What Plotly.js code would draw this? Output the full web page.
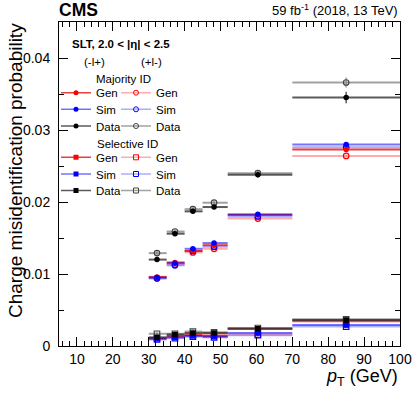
<!DOCTYPE html>
<html>
<head>
<meta charset="utf-8">
<script src="https://cdn.plot.ly/plotly-3.0.1.min.js"></script>
<style>
html, body { margin: 0; padding: 0; background: #fff; }
#chart { width: 415px; height: 394px; }
</style>
</head>
<body>
<div id="chart"></div>
<script>
// pT bins (GeV) and mean pT inside each bin
var binLo = [30, 35, 40, 45, 52, 70];
var binHi = [35, 40, 45, 52, 70, 100];
var ptMean = [32.3, 37.3, 42.3, 48.2, 60.4, 85.0];

// Majority ID: (-l+) filled, (+l-) open
var majGenM  = [0.0096, 0.0116, 0.0132, 0.0140, 0.0182, 0.0273];
var majSimM  = [0.0095, 0.0115, 0.0135, 0.0143, 0.0183, 0.0280];
var majDataM = [0.0120, 0.0156, 0.0187, 0.0193, 0.0238, 0.0345];
var majGenP  = [0.0094, 0.0113, 0.0130, 0.0135, 0.0177, 0.0264];
var majSimP  = [0.0094, 0.0112, 0.0132, 0.0138, 0.0180, 0.0276];
var majDataP = [0.0129, 0.0159, 0.0190, 0.0199, 0.0240, 0.0366];
var majDataErrM = [0.0003, 0.0003, 0.0003, 0.0003, 0.0004, 0.0008];
var majDataErrP = [0.0003, 0.0003, 0.0003, 0.0003, 0.0004, 0.0007];

// Selective ID: (-l+) filled, (+l-) open
var selGenM  = [0.0011, 0.0014, 0.0015, 0.0014, 0.0024, 0.0035];
var selSimM  = [0.0010, 0.0012, 0.0014, 0.0013, 0.0018, 0.0029];
var selDataM = [0.0012, 0.0016, 0.0018, 0.0018, 0.0024, 0.0036];
var selGenP  = [0.0011, 0.0013, 0.0016, 0.0016, 0.0016, 0.0034];
var selSimP  = [0.0009, 0.0011, 0.0013, 0.0012, 0.0015, 0.0027];
var selDataP = [0.0017, 0.0017, 0.0020, 0.0019, 0.0025, 0.0037];
var selDataErr = [0.0003, 0.0003, 0.0003, 0.0003, 0.0003, 0.0004];

var legendNames = ['Gen', 'Sim', 'Data'];

var FONT = '"Liberation Sans", Arial, Helvetica, sans-serif';

// plot frame in pixels (for placing text/legends)
var X0 = 59, W = 341, YB = 346, H = 324;
function px(x) { return (x - X0) / W; }
function py(y) { return (YB - y) / H; }

var errPlus = ptMean.map(function (x, i) { return binHi[i] - x; });
var errMinus = ptMean.map(function (x, i) { return x - binLo[i]; });

var styles = {
	redF:  { marker: 'red',  line: 'rgba(225,0,0,0.75)' },
	blueF: { marker: 'blue', line: 'rgba(0,0,255,0.55)' },
	blackF:{ marker: 'black', line: 'rgba(50,50,50,0.8)' },
	redO:  { marker: 'red',  line: 'rgba(255,70,70,0.45)' },
	blueO: { marker: 'blue', line: 'rgba(70,70,255,0.45)' },
	blackO:{ marker: '#444', line: 'rgba(110,110,110,0.65)' }
};

var traces = [];
var legendTraces = [];

function addSeries(y, yerr, st, symbol, legendId, name) {
	var open = symbol.indexOf('open') >= 0;
	var mk = { symbol: symbol, size: 5.5, color: st.marker, line: { color: st.marker, width: open ? 1.2 : 0 } };
	traces.push({
		type: 'scatter', mode: 'markers',
		x: ptMean, y: y,
		marker: mk,
		error_x: { type: 'data', symmetric: false, array: errPlus, arrayminus: errMinus, thickness: 2, width: 0, color: st.line },
		error_y: { type: 'data', array: yerr || y.map(function () { return 0.0002; }), thickness: 1.5, width: 0, color: st.line },
		showlegend: false, hoverinfo: 'x+y'
	});
	legendTraces.push({
		type: 'scatter', mode: 'lines+markers',
		x: [null], y: [null],
		marker: { symbol: symbol, size: 5, color: st.marker, line: { color: st.marker, width: open ? 1 : 0 } },
		line: { color: st.line, width: 1.5 },
		name: name, legend: legendId, showlegend: true
	});
}

// legend slots: majority (-l+), majority (+l-), selective (-l+), selective (+l-)
var legendRowsY = [[92.7, 109.3, 126], [157.3, 174, 190.5]];
var legendColX = [56, 116];
var legendLayouts = {};
var slot = 0;
function legendSlot(block, col, row) {
	slot += 1;
	var id = slot === 1 ? 'legend' : 'legend' + slot;
	legendLayouts[id] = {
		x: px(legendColX[col]), y: py(legendRowsY[block][row]),
		xanchor: 'left', yanchor: 'middle',
		bgcolor: 'rgba(0,0,0,0)', borderwidth: 0,
		itemwidth: 30,
		font: { family: FONT, size: 11.5, color: 'black' }
	};
	return id;
}

// Majority ID
addSeries(majGenP, null, styles.redO, 'circle-open', legendSlot(0, 1, 0), legendNames[0]);
addSeries(majSimP, null, styles.blueO, 'circle-open', legendSlot(0, 1, 1), legendNames[1]);
addSeries(majDataP, majDataErrP, styles.blackO, 'circle-open', legendSlot(0, 1, 2), legendNames[2]);
addSeries(majGenM, null, styles.redF, 'circle', legendSlot(0, 0, 0), legendNames[0]);
addSeries(majSimM, null, styles.blueF, 'circle', legendSlot(0, 0, 1), legendNames[1]);
addSeries(majDataM, majDataErrM, styles.blackF, 'circle', legendSlot(0, 0, 2), legendNames[2]);
// Selective ID
addSeries(selGenP, null, styles.redO, 'square-open', legendSlot(1, 1, 0), legendNames[0]);
addSeries(selSimP, null, styles.blueO, 'square-open', legendSlot(1, 1, 1), legendNames[1]);
addSeries(selDataP, selDataErr, styles.blackO, 'square-open', legendSlot(1, 1, 2), legendNames[2]);
addSeries(selGenM, null, styles.redF, 'square', legendSlot(1, 0, 0), legendNames[0]);
addSeries(selSimM, null, styles.blueF, 'square', legendSlot(1, 0, 1), legendNames[1]);
addSeries(selDataM, selDataErr, styles.blackF, 'square', legendSlot(1, 0, 2), legendNames[2]);

var axisCommon = {
	showgrid: false, zeroline: false,
	showline: true, linecolor: 'black', linewidth: 1, mirror: 'ticks',
	ticks: 'inside', ticklen: 9, tickwidth: 1, tickcolor: 'black',
	tickfont: { family: FONT, size: 14, color: 'black' }
};

var layout = Object.assign({
	width: 415, height: 394,
	margin: { l: X0, r: 415 - X0 - W, t: YB - H, b: 394 - YB },
	paper_bgcolor: 'white', plot_bgcolor: 'white',
	font: { family: FONT, color: 'black' },
	xaxis: Object.assign({}, axisCommon, {
		range: [5, 100], tick0: 0, dtick: 10,
		minor: { dtick: 2, ticks: 'inside', ticklen: 5, tickcolor: 'black' }
	}),
	yaxis: Object.assign({}, axisCommon, {
		range: [0, 0.045], tick0: 0, dtick: 0.01,
		ticklabelstandoff: 5,
		minor: { dtick: 0.005, ticks: 'inside', ticklen: 5, tickcolor: 'black' }
	}),
	annotations: [
		{ text: '<b>CMS</b>', xref: 'paper', yref: 'paper', x: -0.005, y: py(10), xanchor: 'left', yanchor: 'middle', showarrow: false, font: { size: 17.5 } },
		{ text: '59 fb<sup>-1</sup> (2018, 13 TeV)', xref: 'paper', yref: 'paper', x: 1, y: py(10), xanchor: 'right', yanchor: 'middle', showarrow: false, font: { size: 13 } },
		{ text: '<b>SLT, 2.0 < |η| < 2.5</b>', xref: 'paper', yref: 'paper', x: px(121), y: py(44), xanchor: 'center', yanchor: 'middle', showarrow: false, font: { size: 11.5 } },
		{ text: '(-l+)', xref: 'paper', yref: 'paper', x: px(94), y: py(61.7), xanchor: 'center', yanchor: 'middle', showarrow: false, font: { size: 11.5 } },
		{ text: '(+l-)', xref: 'paper', yref: 'paper', x: px(151), y: py(61.7), xanchor: 'center', yanchor: 'middle', showarrow: false, font: { size: 11.5 } },
		{ text: 'Majority ID', xref: 'paper', yref: 'paper', x: px(123), y: py(79.3), xanchor: 'center', yanchor: 'middle', showarrow: false, font: { size: 11.5 } },
		{ text: 'Selective ID', xref: 'paper', yref: 'paper', x: px(127), y: py(144), xanchor: 'center', yanchor: 'middle', showarrow: false, font: { size: 11.5 } },
		{ text: 'Charge misidentification probability', xref: 'paper', yref: 'paper', x: px(15), y: py(171), xanchor: 'center', yanchor: 'middle', textangle: -90, showarrow: false, font: { size: 19 } },
		{ text: '<i>p</i><sub>T</sub> (GeV)', xref: 'paper', yref: 'paper', x: 1, y: py(377), xanchor: 'right', yanchor: 'middle', showarrow: false, font: { size: 18 } }
	]
}, legendLayouts);

Plotly.newPlot('chart', traces.concat(legendTraces), layout, { displayModeBar: false, staticPlot: true });
</script>
</body>
</html>
